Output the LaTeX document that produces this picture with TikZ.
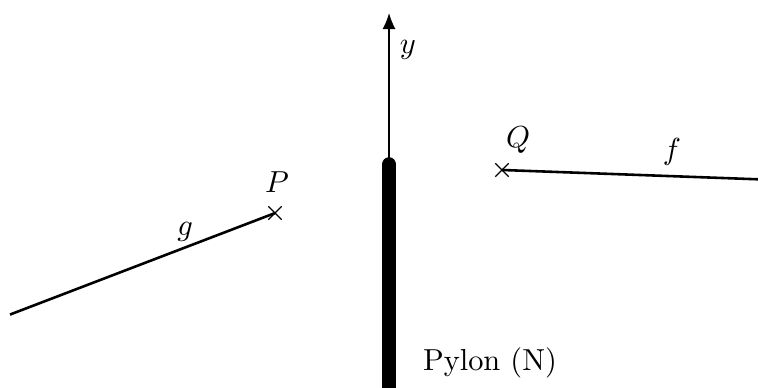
\documentclass[tikz,border=0pt]{standalone}
\usepackage{amsmath}
\usetikzlibrary{positioning,arrows.meta,shapes.misc}
\tikzset{
  point/.style={cross out, draw=black, line width=0.4pt,
                minimum size=4pt, inner sep=0pt},
  axis/.style={-{Latex[length=5.3pt,width=4.3pt]}, line width=0.4pt},
  line/.style={line width=0.85pt},
  pylon/.style={line width=4.8pt, line cap=round},
  lbl/.style={inner sep=0pt},
}
\newcommand{\xaxis}{4.497}
\newcommand{\ytopp}{2.572}

\begin{document}
\begin{tikzpicture}
  \useasboundingbox (0,0) rectangle (8.762,4.474);

  % --- pylon and axis ------------------------------------------------------
  \coordinate (pylon-bot) at (\xaxis,-0.3);
  \coordinate (pylon-top) at (\xaxis,\ytopp);
  \coordinate (axis-tip) at (\xaxis,4.323);
  \draw[pylon] (pylon-bot) -- (pylon-top);
  \draw[axis] (pylon-top) -- (axis-tip);
  \node[lbl] (ylabel) at (4.716,3.896) {$y$};
  \node[lbl] (pylonlabel) at (5.664,0.277) {Pylon (N)};

  % --- points --------------------------------------------------------------
  \node[point] (P) at (3.179,2.011) {};
  \node[point] (Q) at (5.803,2.509) {};
  \node[lbl] (Plabel) at (3.202,2.370) {$P$};
  \node[lbl] (Qlabel) at (5.988,2.855) {$Q$};

  % --- lines ---------------------------------------------------------------
  \coordinate (g-start) at (0.116,0.838);
  \coordinate (f-end) at (8.80,2.400);
  \draw[line] (g-start) -- (P.center);
  \draw[line] (Q.center) -- (f-end);
  \node[lbl] (glabel) at (2.139,1.792) {$g$};
  \node[lbl] (flabel) at (7.768,2.717) {$f$};

\end{tikzpicture}
\end{document}
